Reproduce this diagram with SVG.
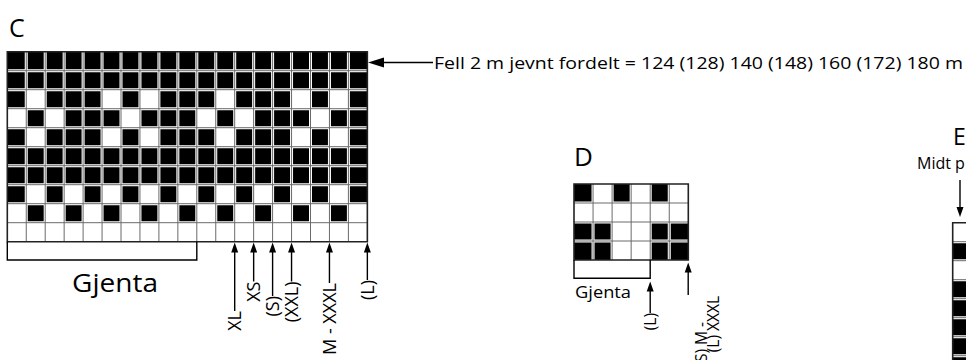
<svg xmlns="http://www.w3.org/2000/svg" width="966" height="360" viewBox="0 0 966 360">
<style>
text{font-family:"Open Sans","Liberation Sans",sans-serif;fill:#000}
.blk{fill:#000}
.gw{fill:none;stroke:#fff;stroke-width:3;vector-effect:non-scaling-stroke}
.gl{fill:none;stroke:#6a6a6a;stroke-width:1;vector-effect:non-scaling-stroke}
.bd{fill:none;stroke:#222;stroke-width:1.6;vector-effect:non-scaling-stroke}
.ln{fill:none;stroke:#000;stroke-width:1.4}
.lbl{font-size:18px}
.sl{font-size:15.5px}
</style>
<rect width="966" height="360" fill="#fff"/>
<text x="9" y="37" font-size="25">C</text>
<text x="574" y="166" font-size="26">D</text>
<text x="953" y="145" font-size="23">E</text>

<g id="chartC" transform="translate(7.3 51.7) scale(18.95 19)">
<rect x="0" y="0" width="19" height="10" fill="#fff"/>
<path class="blk" d="M0 0h19v2h-19z M0 5h19v2h-19z
M0 2h1v1h-1z M2 2h3v1h-3z M6 2h1v1h-1z M8 2h3v1h-3z M12 2h3v1h-3z M16 2h1v1h-1z M18 2h1v1h-1z
M0 4h1v1h-1z M2 4h3v1h-3z M6 4h1v1h-1z M8 4h3v1h-3z M12 4h3v1h-3z M16 4h1v1h-1z M18 4h1v1h-1z
M1 3h1v1h-1z M3 3h3v1h-3z M7 3h3v1h-3z M11 3h1v1h-1z M13 3h3v1h-3z M17 3h2v1h-2z
M0 7h1v1h-1z M2 7h1v1h-1z M4 7h1v1h-1z M6 7h1v1h-1z M8 7h1v1h-1z M10 7h1v1h-1z M12 7h1v1h-1z M14 7h1v1h-1z M16 7h1v1h-1z M18 7h1v1h-1z
M1 8h1v1h-1z M3 8h1v1h-1z M5 8h1v1h-1z M7 8h1v1h-1z M9 8h1v1h-1z M11 8h1v1h-1z M13 8h1v1h-1z M15 8h1v1h-1z M17 8h1v1h-1z"/>
<path class="gw" d="M1 0V10M2 0V10M3 0V10M4 0V10M5 0V10M6 0V10M7 0V10M8 0V10M9 0V10M10 0V10M11 0V10M12 0V10M13 0V10M14 0V10M15 0V10M16 0V10M17 0V10M18 0V10M0 1H19M0 2H19M0 3H19M0 4H19M0 5H19M0 6H19M0 7H19M0 8H19M0 9H19"/>
<path class="gl" d="M1 0V10M2 0V10M3 0V10M4 0V10M5 0V10M6 0V10M7 0V10M8 0V10M9 0V10M10 0V10M11 0V10M12 0V10M13 0V10M14 0V10M15 0V10M16 0V10M17 0V10M18 0V10M0 1H19M0 2H19M0 3H19M0 4H19M0 5H19M0 6H19M0 7H19M0 8H19M0 9H19"/>
<rect class="bd" x="0" y="0" width="19" height="10"/>
</g>

<g id="chartD" transform="translate(574 184) scale(19.05 19)">
<rect x="0" y="0" width="6" height="4" fill="#fff"/>
<path class="blk" d="M0 0h1v1h-1z M2 0h1v1h-1z M4 0h1v1h-1z M0 2h2v2h-2z M4 2h2v2h-2z"/>
<path class="gw" d="M1 0V4M2 0V4M3 0V4M4 0V4M5 0V4M0 1H6M0 2H6M0 3H6"/>
<path class="gl" d="M1 0V4M2 0V4M3 0V4M4 0V4M5 0V4M0 1H6M0 2H6M0 3H6"/>
<rect class="bd" x="0" y="0" width="6" height="4"/>
</g>

<g id="chartE" transform="translate(952.7 222.7) scale(19 19)">
<rect x="0" y="0" width="2" height="8" fill="#fff"/>
<path class="blk" d="M0 1h2v1h-2z M0 3h2v5h-2z"/>
<path class="gw" d="M1 0V8M0 1H2M0 2H2M0 3H2M0 4H2M0 5H2M0 6H2M0 7H2"/>
<path class="gl" d="M1 0V8M0 1H2M0 2H2M0 3H2M0 4H2M0 5H2M0 6H2M0 7H2"/>
<rect class="bd" x="0" y="0" width="2" height="8"/>
</g>

<g id="brackets">
<path class="ln" d="M7.3 241.7V260H196.8V241.7"/>
<path class="ln" d="M574 260V278.3H650.2V260"/>
</g>

<g id="connectors">
<path class="ln" d="M433 62.5H378"/>
<path d="M368 62.5L384 57.5V67.5Z"/>
<path class="ln" d="M234.7 250V311M253.65 250V281.5M272.6 250V296M291.55 250V281.5M329.45 250V283M367.35 250V280"/>
<path d="M234.7 242.5l-3.5 10h7z M253.65 242.5l-3.5 10h7z M272.6 242.5l-3.5 10h7z M291.55 242.5l-3.5 10h7z M329.45 242.5l-3.5 10h7z M367.35 242.5l-3.5 10h7z"/>
<path class="ln" d="M650.2 290V313M688.2 271V295"/>
<path d="M650.2 281.5l-3.5 10h7z M688.2 262.5l-3.5 10h7z"/>
<path class="ln" d="M960 180V208"/>
<path d="M960 217l-3.5-10h7z"/>
</g>

<g id="labels">
<text x="434" y="69" font-size="16.5" textLength="529" lengthAdjust="spacingAndGlyphs">Fell 2 m jevnt fordelt = 124 (128) 140 (148) 160 (172) 180 m</text>
<text x="72" y="292" font-size="25" textLength="86" lengthAdjust="spacingAndGlyphs">Gjenta</text>
<text x="575" y="298" font-size="16" textLength="56" lengthAdjust="spacingAndGlyphs">Gjenta</text>
<text x="917" y="169" font-size="16">Midt p</text>
<text class="lbl" text-anchor="end" transform="translate(241 311) rotate(-90)">XL</text>
<text class="lbl" text-anchor="end" transform="translate(260 281.5) rotate(-90)">XS</text>
<text class="lbl" text-anchor="end" transform="translate(279 296) rotate(-90)">(S)</text>
<text class="lbl" text-anchor="end" transform="translate(298 281.5) rotate(-90)">(XXL)</text>
<text class="lbl" text-anchor="end" transform="translate(336 283) rotate(-90)" textLength="72" lengthAdjust="spacingAndGlyphs">M - XXXL</text>
<text class="lbl" text-anchor="end" transform="translate(373.8 280) rotate(-90)">(L)</text>
<text class="sl" text-anchor="end" transform="translate(655.8 313) rotate(-90)">(L)</text>
<text class="sl" text-anchor="end" transform="translate(707 322) rotate(-90)">(S) M -</text>
<text class="sl" text-anchor="end" transform="translate(719 296) rotate(-90)">(L) XXXL</text>
</g>
</svg>
